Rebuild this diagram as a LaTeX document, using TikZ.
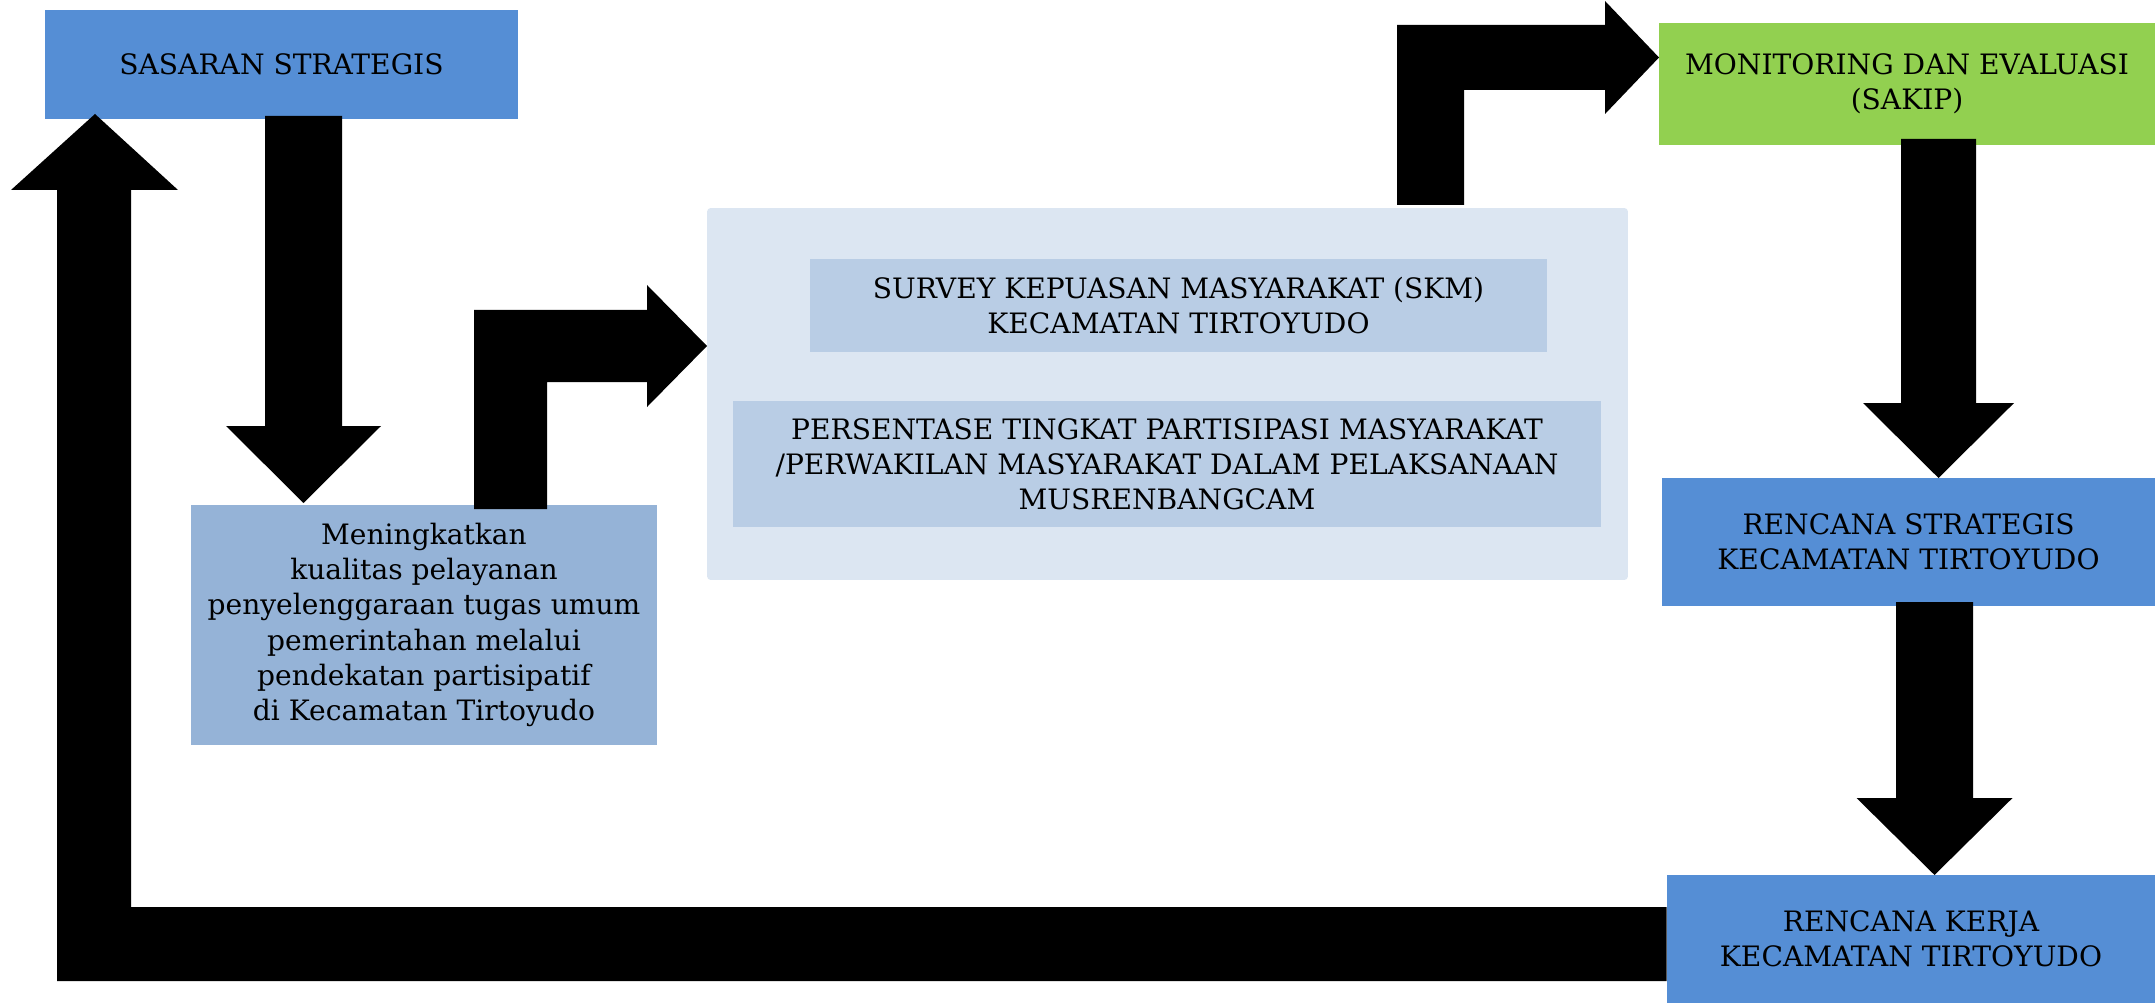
\documentclass[tikz,border=0pt]{standalone}
\usepackage{fontspec}
\setmainfont{DejaVu Serif}
\definecolor{birutua}{HTML}{558ED5}
\definecolor{birusedang}{HTML}{95B3D7}
\definecolor{birupucat}{HTML}{DCE6F2}
\definecolor{birumuda}{HTML}{B9CDE5}
\definecolor{hijau}{HTML}{92D050}

% block arrow pointing down: x, top, head base, tip, half shaft, half head
\newcommand{\panahbawah}[6]{%
    \fill (#1-#5,#2) -- (#1+#5,#2) -- (#1+#5,#3) -- (#1+#6,#3)
        -- (#1,#4) -- (#1-#6,#3) -- (#1-#5,#3) -- cycle;}

\begin{document}
\begin{tikzpicture}[
    x=0.02cm, y=-0.02cm,
    kotak/.style={rectangle, inner sep=0pt, align=center,
        font={\fontsize{16pt}{20pt}\selectfont}},
    ]
    \useasboundingbox (0,0) rectangle (2155,1003);

    % boxes
    \node[kotak, fill=birutua, minimum width=9.46cm, minimum height=2.18cm]
        (sasaran) at (281.5,64.5) {SASARAN STRATEGIS};
    \node[kotak, fill=birusedang, minimum width=9.32cm, minimum height=4.8cm]
        (tujuan) at (424,625) {Meningkatkan\\kualitas pelayanan\\penyelenggaraan tugas umum\\pemerintahan melalui\\pendekatan partisipatif\\di Kecamatan Tirtoyudo};
    \node[kotak, fill=birupucat, rounded corners=2pt, minimum width=18.42cm, minimum height=7.44cm]
        (indikator) at (1167.5,394) {};
    \node[kotak, fill=birumuda, minimum width=14.74cm, minimum height=1.86cm]
        (skm) at (1178.5,305.5) {SURVEY KEPUASAN MASYARAKAT (SKM)\\KECAMATAN TIRTOYUDO};
    \node[kotak, fill=birumuda, minimum width=17.36cm, minimum height=2.52cm]
        (partisipasi) at (1167,464) {PERSENTASE TINGKAT PARTISIPASI MASYARAKAT\\/PERWAKILAN MASYARAKAT DALAM PELAKSANAAN\\MUSRENBANGCAM};
    \node[kotak, fill=hijau, minimum width=9.92cm, minimum height=2.44cm]
        (monev) at (1907,84) {MONITORING DAN EVALUASI\\(SAKIP)};
    \node[kotak, fill=birutua, minimum width=9.86cm, minimum height=2.56cm]
        (renstra) at (1908.5,542) {RENCANA STRATEGIS\\KECAMATAN TIRTOYUDO};
    \node[kotak, fill=birutua, minimum width=9.76cm, minimum height=2.56cm]
        (renja) at (1911,939) {RENCANA KERJA\\KECAMATAN TIRTOYUDO};

    % block arrows
    \fill (renja.west |- 0,981) -- (57,981) -- (57,190) -- (11,190) -- (95,114)
        -- (178,190) -- (131,190) -- (131,907) -- (renja.west |- 0,907) -- cycle;
    \panahbawah{303.5}{116}{426}{503}{38.5}{77.5}
    \fill (474,509) -- (474,310) -- (647,310) -- (647,285) -- (707,346)
        -- (647,407) -- (647,382) -- (547,382) -- (547,509) -- cycle;
    \fill (1397,205) -- (1397,25) -- (1605,25) -- (1605,1) -- (1659,57.5)
        -- (1605,114) -- (1605,90) -- (1464,90) -- (1464,205) -- cycle;
    \panahbawah{1938.5}{139}{403}{478}{37.5}{75.5}
    \panahbawah{1934.5}{602}{798}{875}{38.5}{78}
\end{tikzpicture}
\end{document}
